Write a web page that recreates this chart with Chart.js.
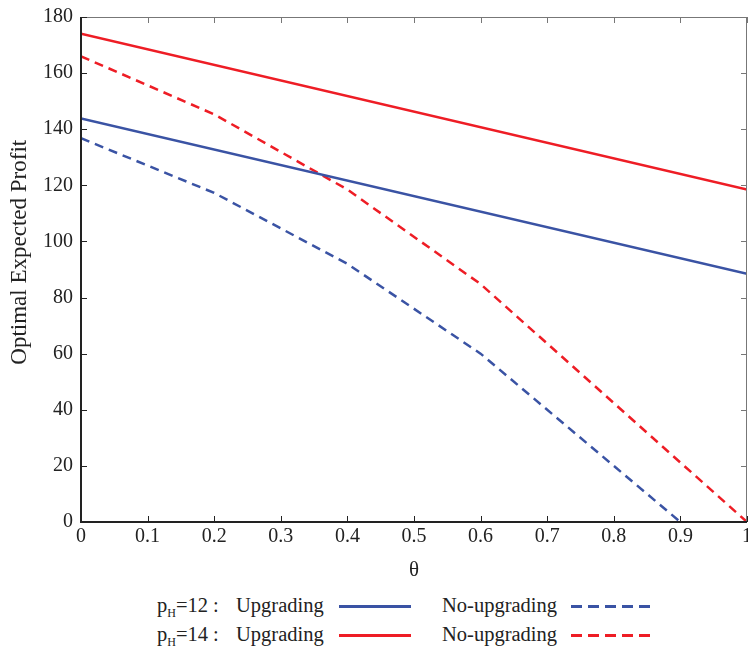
<!DOCTYPE html>
<html lang="en">
<head>
  <meta charset="UTF-8" />
  <title>Optimal Expected Profit vs theta</title>
  <script src="https://cdn.jsdelivr.net/npm/chart.js"></script>
  <style>
    body { margin: 0; background: #fff; font-family: "Liberation Serif", "Times New Roman", serif; color: #222; }
    #wrap { position: relative; width: 748px; height: 653px; }
    #chartBox { position: absolute; left: 0; top: 0; width: 748px; height: 590px; }
    .legend { position: absolute; font-size: 20.5px; line-height: 24px; white-space: nowrap; }
    .legend sub { font-size: 12px; vertical-align: -5px; }
    .swatch { position: absolute; height: 0; }
  </style>
</head>
<body>
  <div id="wrap">
    <div id="chartBox"><canvas id="profitChart"></canvas></div>
    <!-- legend -->
    <div id="legend"></div>
  </div>

  <script>
    // data
    const thetaUpgrade = [0, 1];
    const upgrade12 = [143.8, 88.5];
    const upgrade14 = [174, 118.5];
    const thetaNoUpgrade = [0, 0.2, 0.4, 0.6, 0.8, 0.9, 1];
    const noUpgrade12 = [136.8, 117.3, 92, 60, 20, 0, null];
    const noUpgrade14 = [166, 145.3, 118.5, 84.8, 42.4, 21.2, 0];
    const xTicks = [0, 0.1, 0.2, 0.3, 0.4, 0.5, 0.6, 0.7, 0.8, 0.9, 1];
    const yTicks = [0, 20, 40, 60, 80, 100, 120, 140, 160, 180];

    const BLUE = '#3a53a4';
    const RED = '#ee1d25';
    const SERIF = "'Liberation Serif', 'Times New Roman', serif";

    const pts = (xs, ys) => xs.map((x, i) => ({ x: x, y: ys[i] })).filter(p => p.y !== null);

    // inward ticks on all four sides plus frame
    const framePlugin = {
      id: 'frame',
      afterDatasetsDraw(chart) {
        const { ctx, chartArea: a, scales } = chart;
        ctx.save();
        ctx.lineWidth = 1;
        ctx.strokeStyle = '#777';
        ctx.beginPath();
        ctx.moveTo(a.left, a.top + 0.5); ctx.lineTo(a.right, a.top + 0.5);
        ctx.moveTo(a.right - 0.5, a.top); ctx.lineTo(a.right - 0.5, a.bottom);
        xTicks.forEach(v => {
          const x = Math.round(scales.x.getPixelForValue(v)) + 0.5;
          ctx.moveTo(x, a.top); ctx.lineTo(x, a.top + 6);
        });
        yTicks.forEach(v => {
          const y = Math.round(scales.y.getPixelForValue(v)) + 0.5;
          ctx.moveTo(a.right, y); ctx.lineTo(a.right - 6, y);
        });
        ctx.stroke();
        ctx.strokeStyle = '#222';
        ctx.lineWidth = 2;
        ctx.beginPath();
        ctx.moveTo(a.left, a.top); ctx.lineTo(a.left, a.bottom); ctx.lineTo(a.right, a.bottom);
        ctx.stroke();
        ctx.lineWidth = 1;
        ctx.beginPath();
        xTicks.forEach(v => {
          const x = Math.round(scales.x.getPixelForValue(v)) + 0.5;
          ctx.moveTo(x, a.bottom); ctx.lineTo(x, a.bottom - 6);
        });
        yTicks.forEach(v => {
          const y = Math.round(scales.y.getPixelForValue(v)) + 0.5;
          ctx.moveTo(a.left, y); ctx.lineTo(a.left + 6, y);
        });
        ctx.stroke();
        ctx.restore();
      }
    };

    const lineDs = (label, data, color, dashed) => ({
      label: label,
      data: data,
      borderColor: color,
      borderWidth: 2.5,
      borderDash: dashed ? [9, 6] : [],
      pointRadius: 0,
      tension: 0,
      fill: false
    });

    new Chart(document.getElementById('profitChart'), {
      type: 'line',
      data: {
        datasets: [
          lineDs('pH=12 Upgrading', pts(thetaUpgrade, upgrade12), BLUE, false),
          lineDs('pH=14 Upgrading', pts(thetaUpgrade, upgrade14), RED, false),
          lineDs('pH=12 No-upgrading', pts(thetaNoUpgrade, noUpgrade12), BLUE, true),
          lineDs('pH=14 No-upgrading', pts(thetaNoUpgrade, noUpgrade14), RED, true)
        ]
      },
      options: {
        responsive: true,
        maintainAspectRatio: false,
        animation: false,
        layout: { padding: { top: 14, right: 1, left: 0, bottom: 0 } },
        plugins: { legend: { display: false }, tooltip: { enabled: false } },
        scales: {
          x: {
            type: 'linear',
            min: 0, max: 1,
            afterBuildTicks: s => { s.ticks = xTicks.map(v => ({ value: v })); },
            afterFit: s => { s.height = 68; s.paddingRight = 0; s.paddingLeft = 0; },
            grid: { display: false, tickLength: 3 },
            border: { display: false },
            ticks: { color: '#222', padding: 0, maxRotation: 0, callback: v => String(v), font: { family: SERIF, size: 20 } },
            title: { display: true, text: 'θ', color: '#222', padding: { top: 0, bottom: 7 }, font: { family: SERIF, size: 21 } }
          },
          y: {
            min: 0, max: 180,
            afterBuildTicks: s => { s.ticks = yTicks.map(v => ({ value: v })); },
            afterFit: s => { s.width = 81; },
            grid: { display: false, tickLength: 3 },
            border: { display: false },
            ticks: { color: '#222', padding: 5, callback: v => String(v), font: { family: SERIF, size: 20 } },
            // leading spaces nudge the rotated title upward like the original
            title: { display: true, text: '\u2003\u2002Optimal Expected Profit', color: '#222', padding: { top: 6, bottom: 0 }, font: { family: SERIF, size: 23 } }
          }
        }
      },
      plugins: [framePlugin]
    });

    // custom legend (html text)
    const legendRows = [
      { price: '12', color: BLUE, top: 593 },
      { price: '14', color: RED, top: 622 }
    ];
    const legendEl = document.getElementById('legend');
    legendRows.forEach(r => {
      legendEl.insertAdjacentHTML('beforeend',
        `<div class="legend" style="left:157px;top:${r.top}px">p<sub>H</sub>=${r.price} :</div>` +
        `<div class="legend" style="left:236px;top:${r.top}px">Upgrading</div>` +
        `<div class="swatch" style="left:339px;top:${r.top + 12}px;width:72px;border-top:3px solid ${r.color}"></div>` +
        `<div class="legend" style="left:442px;top:${r.top}px">No-upgrading</div>` +
        `<div class="swatch" style="left:571px;top:${r.top + 12}px;width:81px;height:3px;background:repeating-linear-gradient(90deg, ${r.color} 0 11px, transparent 11px 17px)"></div>`);
    });
  </script>
</body>
</html>
